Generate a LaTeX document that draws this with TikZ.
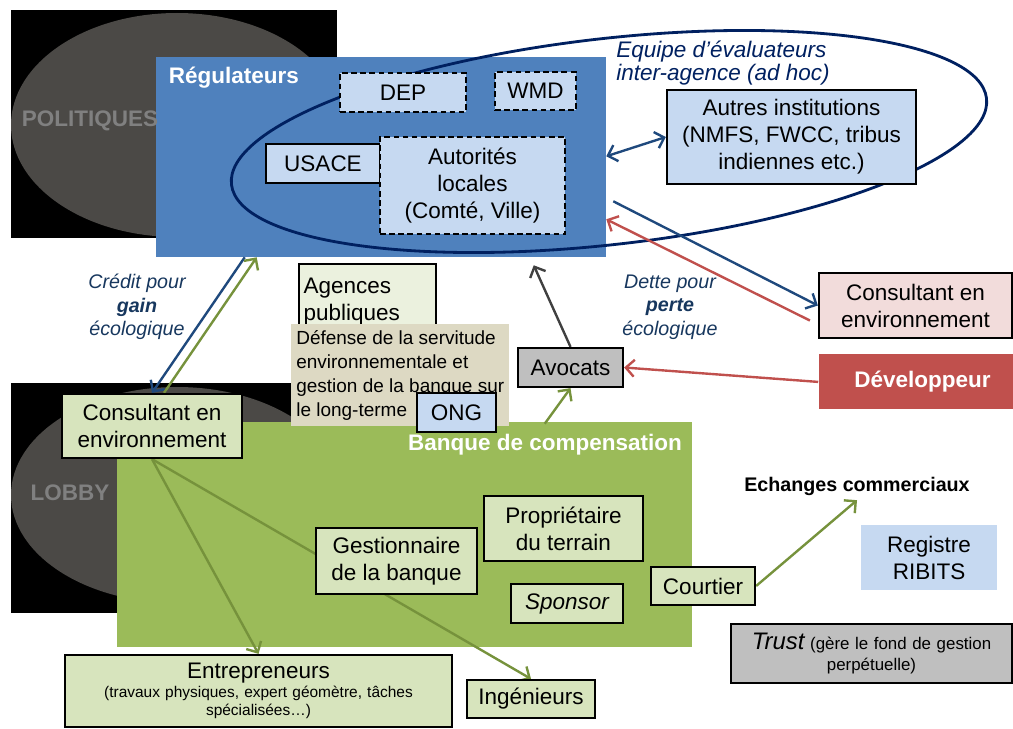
\documentclass[tikz,border=0pt]{standalone}
\usepackage{fontspec}
\setmainfont{Liberation Sans}
\usetikzlibrary{arrows.meta,positioning,calc}
\definecolor{regblue}{RGB}{79,129,189}
\definecolor{bankgreen}{RGB}{155,187,89}
\definecolor{paleblue}{RGB}{198,217,241}
\definecolor{palegreen}{RGB}{215,228,189}
\definecolor{lightgreen}{RGB}{235,241,222}
\definecolor{sand}{RGB}{221,217,195}
\definecolor{palered}{RGB}{242,220,219}
\definecolor{devred}{RGB}{192,80,77}
\definecolor{navy}{RGB}{0,32,96}
\definecolor{arrowblue}{RGB}{31,73,125}
\definecolor{arrowgreen}{RGB}{118,146,60}
\definecolor{labelteal}{RGB}{23,55,94}
\definecolor{shadow}{RGB}{75,73,70}
\definecolor{midgray}{RGB}{191,191,191}
\definecolor{darkline}{RGB}{64,64,64}
\pgfdeclarelayer{back}
\pgfdeclarelayer{mid}
\pgfsetlayers{back,mid,main}

\begin{document}
\begin{tikzpicture}[
    x=0.025cm, y=-0.025cm,
    sz/.style 2 args={minimum width=#1*0.025cm, minimum height=#2*0.025cm},
    box/.style={rectangle, draw, line width=1.6pt, align=center, inner sep=1pt, font=\fontsize{16}{19.2}\selectfont},
    agency/.style={box, fill=paleblue, dash pattern=on 4pt off 2.5pt},
    actor/.style={box, fill=palegreen},
    heading/.style={text=white, font=\fontsize{16}{19}\selectfont\bfseries},
    bigtag/.style={text=gray, font=\fontsize{16}{19}\selectfont\bfseries},
    flowtag/.style={text=labelteal, align=center, font=\fontsize{14}{16.7}\selectfont\itshape},
    arrow/.style={-{Straight Barb[length=6pt,width=12pt]}, line width=1.7pt},
    darrow/.style={{Straight Barb[length=6pt,width=12pt]}-{Straight Barb[length=6pt,width=12pt]}, line width=1.7pt}
]
\useasboundingbox (0,0) rectangle (1013,729);

% backdrop: politics, lobby, regulators, bank
\begin{pgfonlayer}{back}
\fill (11,10) rectangle (337,238);
\fill[shadow] (177,125) ellipse [x radius=166, y radius=112];
\fill (11,383) rectangle (337,613);
\fill[shadow] (177,495) ellipse [x radius=166, y radius=108];
\node[fill=regblue, sz={450}{200}] (reg) at (381,157) {};
\node[fill=bankgreen, sz={575}{225}] (bank) at (404.5,534.5) {};
\end{pgfonlayer}

\node[bigtag] (pol) at (90,121) {POLITIQUES};
\node[bigtag] (lob) at (70,493) {LOBBY};
\node[heading, anchor=west] (regtitle) at (164,78) {Régulateurs};
\node[heading] (banktitle) at (545,445) {Banque de compensation};

% regulators
\node[agency, sz={126}{39}] (dep) at (403,92.5) {DEP};
\node[agency, sz={81}{38}] (wmd) at (535.5,91) {WMD};
\node[box, fill=paleblue, sz={114}{39}] (usace) at (323,163.5) {USACE};
\node[agency, sz={185}{97}] (autorites) at (472.5,185.5) {Autorités\\locales\\(Comté, Ville)};
\node[box, fill=paleblue, sz={249}{94}] (autres) at (791.5,137) {Autres institutions\\(NMFS, FWCC, tribus\\indiennes etc.)};
\node[text=navy, align=left, anchor=west, inner sep=0pt, font=\fontsize{16}{14}\selectfont\itshape] (equipe) at (616,63) {Equipe d’évaluateurs\\inter-agence (ad hoc)};

% right side
\node[box, fill=palered, sz={193}{65}] (consR) at (915.5,305.5) {Consultant en\\environnement};
\node[fill=devred, sz={194}{55}, below=0.375cm of consR.south, anchor=north, font=\fontsize{16}{19}\selectfont\bfseries, text=white] (dev) {\hspace*{0.35cm}Développeur};
\node[flowtag] (dette) at (670,307) {Dette pour\\\textbf{perte}\\écologique};
\node[flowtag] (credit) at (137,307) {Crédit pour\\\textbf{gain}\\écologique};

% middle
\node[actor, sz={180}{64}] (consL) at (152,426) {Consultant en\\environnement};
\node[box, fill=lightgreen, anchor=north west, sz={137}{75}, text width=3.2cm, align=left] (agences) at (298,263) {Agences\\publiques};
\node[fill=sand, anchor=north west, sz={218}{102}, align=left, inner sep=1pt, font=\fontsize{13.5}{17}\selectfont] (defense) at (291,324) {Défense de la servitude\\environnementale et\\gestion de la banque sur\\le long-terme};
\node[box, fill=paleblue, sz={79}{39}] (ong) at (456.5,412.5) {ONG};
\node[box, fill=midgray, sz={105}{39}] (avocats) at (570.5,367.5) {Avocats};

% bank actors
\node[actor, sz={161}{66}] (gest) at (396.5,561) {Gestionnaire\\de la banque};
\node[actor, sz={159}{65}] (prop) at (563.5,528.5) {Propriétaire\\du terrain};
\node[actor, sz={112}{39}, font=\fontsize{16}{19.2}\selectfont\itshape] (sponsor) at (567,603.5) {Sponsor};
\node[actor, sz={104}{38}] (courtier) at (703,586) {Courtier};
\node[font=\fontsize{14}{16}\selectfont\bfseries] (echanges) at (857,486) {Echanges commerciaux};
\node[fill=paleblue, sz={136}{65}, align=center, font=\fontsize{16}{19.2}\selectfont] (ribits) at (929,557.5) {Registre\\RIBITS};
\node[box, fill=midgray, sz={281}{59}, text width=6.8cm, font=\fontsize{12}{15}\selectfont] (trust) at (871.5,653.5) {{\fontsize{17}{15}\selectfont\itshape Trust} (gère le fond de gestion\\perpétuelle)};
\node[actor, sz={387}{72}, text width=9.5cm, font=\fontsize{11}{13}\selectfont] (entr) at (258.5,691) {{\fontsize{16}{19}\selectfont Entrepreneurs}\\(travaux physiques, expert géomètre, tâches\\spécialisées…)};
\node[actor, sz={128}{38}] (ing) at (531,699) {Ingénieurs};

% flows
\begin{pgfonlayer}{mid}
\draw[navy, line width=2pt, rotate around={6.5:(609,141.5)}] (609,141.5) ellipse [x radius=380, y radius=103];
\draw[arrow, arrowblue] ($(reg.south west)+(89,0)$) -- (consL.north);
\draw[arrow, arrowgreen] ($(consL.north)+(12,0)$) -- ($(reg.south west)+(101,0)$);
\draw[arrow, darkline] (avocats.north) -- ($(reg.south west)+(378,8)$);
\draw[arrow, devred] (dev.west) -- (avocats.east);
\draw[arrow, arrowgreen] ($(bank.north west)+(428,2)$) -- (avocats.south);
\draw[arrow, arrowblue] ($(reg.south east)+(7,-56)$) -- (consR.west);
\draw[arrow, devred] ($(consR.west)+(-8,15)$) -- ($(reg.south east)+(0,-38)$);
\draw[darrow, arrowblue] ($(reg.south east)+(0,-101)$) -- (autres.west);
\draw[arrow, arrowgreen] (consL.south) -- (entr.north);
\draw[arrow, arrowgreen] (consL.south) -- (ing.north);
\draw[arrow, arrowgreen] (courtier.east) -- (echanges.south);
\end{pgfonlayer}
\end{tikzpicture}
\end{document}
